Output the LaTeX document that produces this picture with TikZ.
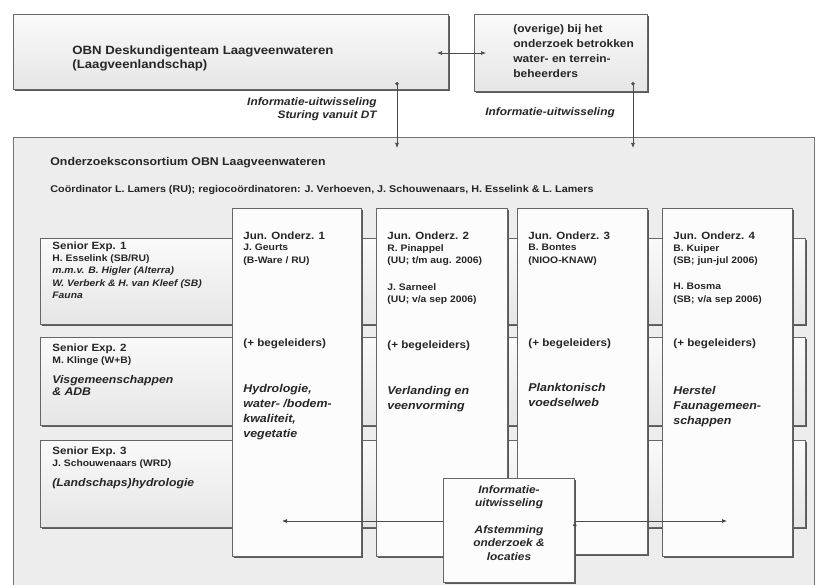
\documentclass[tikz,border=0pt]{standalone}
\usepackage{fontspec}
\setmainfont{Liberation Sans}[FakeStretch=1.1]
\usetikzlibrary{shadows,arrows.meta}

\begin{document}
\begin{tikzpicture}[x=1pt,y=-1pt,line width=0.8pt,
    panel/.style={anchor=north west,draw=black!60,inner sep=0pt,
                  top color=black!2,bottom color=black!10,
                  drop shadow={shadow xshift=2pt,shadow yshift=-2pt,fill=black!65,opacity=1}},
    column/.style={anchor=north west,draw=black!60,inner sep=0pt,fill=black!1,
                  drop shadow={shadow xshift=2pt,shadow yshift=-2pt,fill=black!65,opacity=1}},
    consortium/.style={anchor=north west,draw=black!55,inner sep=0pt,fill=black!7},
    txt/.style={anchor=north west,inner sep=0pt,align=left,text=black!85},
    title/.style={txt,font=\bfseries\fontsize{12}{14}\selectfont},
    head/.style={txt,font=\bfseries\fontsize{10.5}{13}\selectfont},
    det/.style={txt,font=\bfseries\fontsize{9.4}{12.5}\selectfont},
    note/.style={txt,font=\bfseries\fontsize{10.6}{13}\selectfont},
    topic/.style={txt,font=\bfseries\itshape\fontsize{11.3}{15}\selectfont},
    sentopic/.style={txt,font=\bfseries\itshape\fontsize{11.1}{12.5}\selectfont},
    info/.style={txt,font=\bfseries\itshape\fontsize{10.8}{13.5}\selectfont},
    link/.style={draw=black!70,line width=0.7pt,{Latex[length=5pt,width=4pt]}-{Latex[length=5pt,width=4pt]}},
    feed/.style={draw=black!70,line width=0.7pt,{Circle[length=3.5pt]}-{Latex[length=5pt,width=4pt]}}]

    \useasboundingbox (0,0) rectangle (819,585);
    \clip (0,0) rectangle (819,585);

    % deskundigenteam en beheerders
    \node[panel,minimum width=435pt,minimum height=75pt] (dt) at (13,14) {};
    \node[title] (dtname) at (72,45) {OBN Deskundigenteam Laagveenwateren\\(Laagveenlandschap)};
    \node[panel,minimum width=173pt,minimum height=77pt] (ov) at (474,14) {};
    \node[txt,font=\bfseries\fontsize{10.9}{15}\selectfont] (ovname) at (513,24)
        {(overige) bij het\\onderzoek betrokken\\water- en terrein-\\beheerders};
    \node[info,anchor=north east,align=right] (dtinfo) at (377,97) {Informatie-uitwisseling\\Sturing vanuit DT};
    \node[info] (ovinfo) at (485,107) {Informatie-uitwisseling};

    % consortium
    \node[consortium,minimum width=801pt,minimum height=470pt] (cons) at (13,137) {};
    \node[txt,font=\bfseries\fontsize{11.2}{13}\selectfont] (constitle) at (50,157) {Onderzoeksconsortium OBN Laagveenwateren};
    \node[txt,font=\bfseries\fontsize{9.8}{11}\selectfont] (coord) at (50,185)
        {Coördinator L. Lamers (RU); regiocoördinatoren: J. Verhoeven, J. Schouwenaars, H. Esselink \& L. Lamers};

    % senior experts
    \node[panel,minimum width=765pt,minimum height=86pt] (sen1) at (40,238) {};
    \node[panel,minimum width=765pt,minimum height=88pt] (sen2) at (40,337) {};
    \node[panel,minimum width=765pt,minimum height=87pt] (sen3) at (40,440) {};

    \node[head] (sen1head) at (52,241) {Senior Exp. 1};
    \node[det] (sen1det) at (52,254) {H. Esselink (SB/RU)\\\textit{m.m.v. B. Higler (Alterra)}\\
        \textit{W. Verberk \& H. van Kleef (SB)}\\\textit{Fauna}};
    \node[head] (sen2head) at (52,343) {Senior Exp. 2};
    \node[det] (sen2det) at (52,356) {M. Klinge (W+B)};
    \node[sentopic] (sen2topic) at (52,375) {Visgemeenschappen\\\& ADB};
    \node[head] (sen3head) at (52,446) {Senior Exp. 3};
    \node[det] (sen3det) at (52,459) {J. Schouwenaars (WRD)};
    \node[sentopic] (sen3topic) at (52,478) {(Landschaps)hydrologie};

    % junior onderzoekers
    \node[column,minimum width=129pt,minimum height=348pt] (jun1) at (232,208) {};
    \node[column,minimum width=131pt,minimum height=348pt] (jun2) at (376,208) {};
    \node[column,minimum width=130pt,minimum height=346pt] (jun3) at (517,208) {};
    \node[column,minimum width=130pt,minimum height=348pt] (jun4) at (662,208) {};

    \node[head] (jun1head) at (243,231) {Jun. Onderz. 1};
    \node[det] (jun1det) at (243,244) {J. Geurts\\(B-Ware / RU)};
    \node[note] (jun1beg) at (243,338) {(+ begeleiders)};
    \node[topic] (jun1topic) at (243,384) {Hydrologie,\\water- /bodem-\\kwaliteit,\\vegetatie};

    \node[head] (jun2head) at (387,231) {Jun. Onderz. 2};
    \node[det] (jun2det) at (387,244) {R. Pinappel\\(UU; t/m aug. 2006)};
    \node[det] (jun2deta) at (387,283) {J. Sarneel\\(UU; v/a sep 2006)};
    \node[note] (jun2beg) at (387,340) {(+ begeleiders)};
    \node[topic] (jun2topic) at (387,386) {Verlanding en\\veenvorming};

    \node[head] (jun3head) at (528,231) {Jun. Onderz. 3};
    \node[det] (jun3det) at (528,244) {B. Bontes\\(NIOO-KNAW)};
    \node[note] (jun3beg) at (528,338) {(+ begeleiders)};
    \node[topic] (jun3topic) at (528,383) {Planktonisch\\voedselweb};

    \node[head] (jun4head) at (673,231) {Jun. Onderz. 4};
    \node[det] (jun4det) at (673,244) {B. Kuiper\\(SB; jun-jul 2006)};
    \node[det] (jun4deta) at (673,283) {H. Bosma\\(SB; v/a sep 2006)};
    \node[note] (jun4beg) at (673,338) {(+ begeleiders)};
    \node[topic] (jun4topic) at (673,386) {Herstel\\Faunagemeen-\\schappen};

    % afstemming
    \node[column,minimum width=131pt,minimum height=104pt] (afst) at (443,478) {};
    \node[info,anchor=north,align=center] (afsttext) at (509,485)
        {Informatie-\\uitwisseling\\[13pt]Afstemming\\onderzoek \&\\locaties};

    \coordinate (dtR) at (437,53);
    \coordinate (ovL) at (486,53);
    \coordinate (dtdot) at (397,82);
    \coordinate (consdt) at (397,148);
    \coordinate (ovdot) at (633,82);
    \coordinate (consov) at (633,148);
    \coordinate (infoL) at (282,521);
    \coordinate (infoR) at (727,521);

    \path[link] (dtR) -- (ovL);
    \path[feed] (dtdot) -- (consdt);
    \path[feed] (ovdot) -- (consov);
    \path[draw=black!70,line width=0.7pt,-{Latex[length=5pt,width=4pt]}]
      (afst.west |- infoL) edge (infoL)
      (afst.east |- infoR) edge (infoR);
\end{tikzpicture}
\end{document}
